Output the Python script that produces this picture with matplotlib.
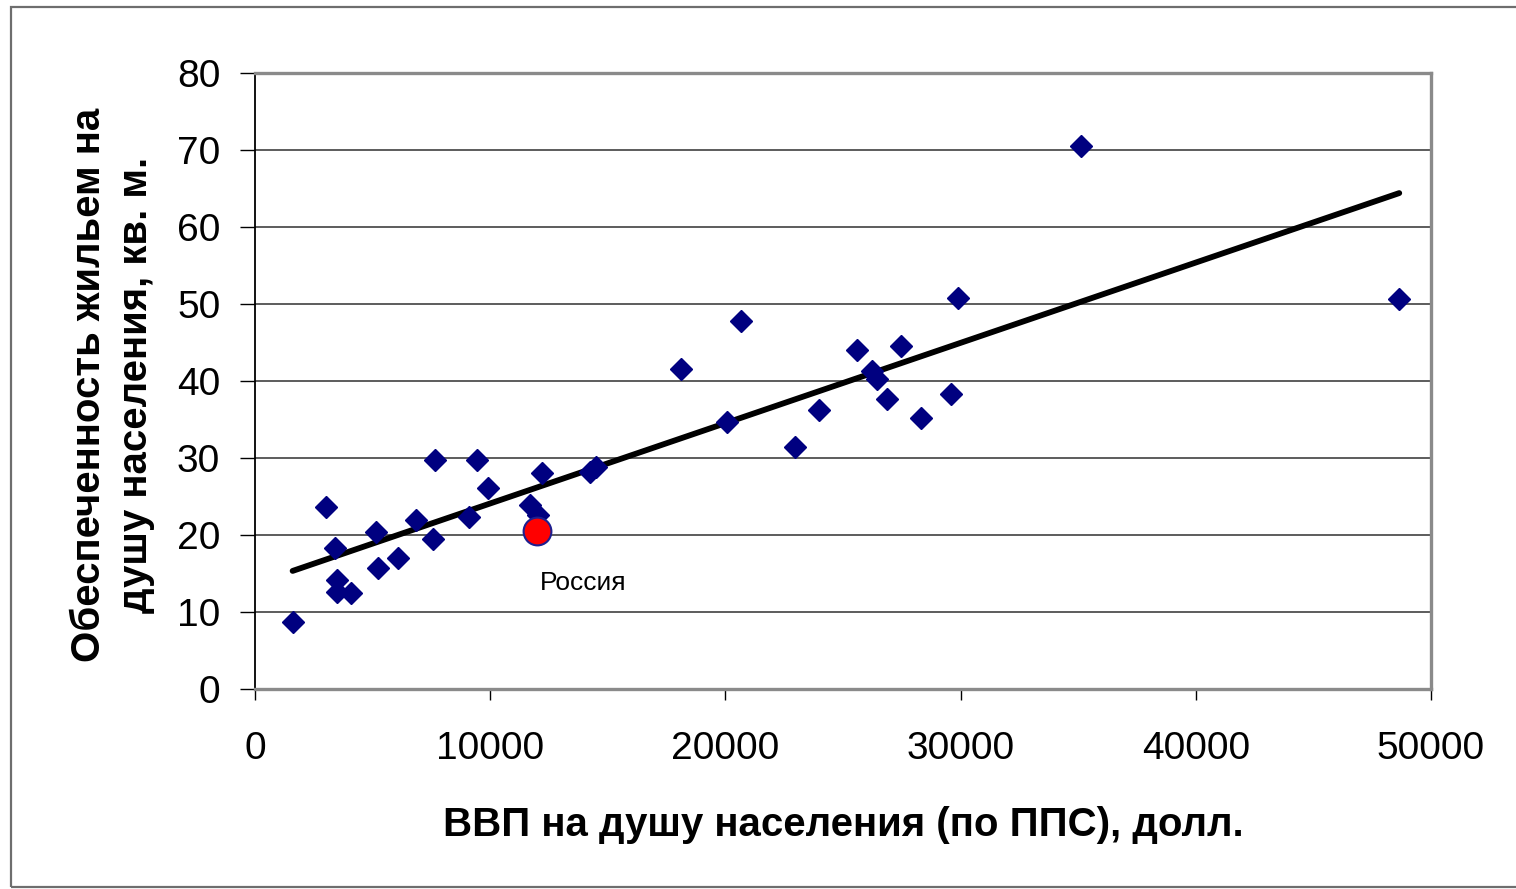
import numpy as np
import matplotlib
matplotlib.use("Agg")
import matplotlib.pyplot as plt
from matplotlib.patches import Rectangle

plt.rcParams['font.family'] = ['Liberation Sans', 'DejaVu Sans']

# ВВП на душу населения (по ППС), долл. / обеспеченность жильем, кв. м
gdp = [1600, 3000, 3400, 3500, 3500, 4100, 5150, 5250, 6100, 6850,
       7550, 7650, 9100, 9450, 9900, 11700, 12050, 12200, 14250, 14500,
       18100, 20050, 20650, 22950, 24000, 25600, 26250, 26450, 26850, 27450,
       28300, 29600, 29900, 35100, 48650]
housing = [8.7, 23.6, 18.3, 14.2, 12.6, 12.5, 20.4, 15.7, 17.0, 21.9,
           19.5, 29.7, 22.4, 29.7, 26.1, 23.9, 22.6, 28.1, 28.2, 28.8,
           41.6, 34.7, 47.8, 31.4, 36.2, 44.0, 41.3, 40.3, 37.7, 44.5,
           35.2, 38.3, 50.8, 70.5, 50.6]

russia_gdp = 12000
russia_housing = 20.5
russia_label = "Россия"

xlabel = "ВВП на душу населения (по ППС), долл."
ylabel = "Обеспеченность жильем на\nдушу населения, кв. м."

fig = plt.figure(figsize=(15.16, 8.89), dpi=100)
ax = fig.add_axes([255 / 1516, 1 - 689 / 889, 1176 / 1516, 616 / 889])

# рамка вокруг всей диаграммы
fig.patches.append(Rectangle((11 / 1516, 1 - 887 / 889), 1.2, 880 / 889,
                             transform=fig.transFigure, fill=False,
                             edgecolor='#6e6e6e', linewidth=1.6))

# линия тренда (линейная регрессия)
all_x = np.array(gdp + [russia_gdp])
all_y = np.array(housing + [russia_housing])
k, b = np.polyfit(all_x, all_y, 1)
xs = np.array([all_x.min(), all_x.max()])
ax.plot(xs, k * xs + b, color='black', linewidth=4.2, zorder=3,
        solid_capstyle='round')

ax.plot(gdp, housing, linestyle='none', marker='D', markersize=11,
        color='#000080', zorder=4)
ax.plot([russia_gdp], [russia_housing], linestyle='none', marker='o',
        markersize=20, markerfacecolor='#ff0000', markeredgecolor='#1f1f8f',
        markeredgewidth=1.5, zorder=5)
ax.annotate(russia_label, (russia_gdp, russia_housing),
            xytext=(33, -37), textcoords='offset points',
            ha='center', va='center', fontsize=19)

ax.set_xlim(0, 50000)
ax.set_ylim(0, 80)
ax.set_xticks(np.arange(0, 50001, 10000))
ax.set_yticks(np.arange(0, 81, 10))
ax.yaxis.grid(True, color='#303030', linewidth=1.1)
ax.set_axisbelow(True)

ax.tick_params(axis='y', direction='out', length=11, width=1, pad=14,
               labelsize=28)
ax.tick_params(axis='x', direction='out', length=8, width=1, pad=22,
               labelsize=28)

ax.spines['left'].set_color('black')
ax.spines['left'].set_linewidth(1.3)
for s in ['top', 'right', 'bottom']:
    ax.spines[s].set_color('#8a8a8a')
    ax.spines[s].set_linewidth(2.4)

ax.set_xlabel(xlabel, fontsize=29, fontweight='bold')
ax.xaxis.set_label_coords(0.5, -0.19)
ax.set_ylabel(ylabel, fontsize=29, fontweight='bold', linespacing=1.3)
ax.yaxis.set_label_coords(-0.085, 0.4935)

fig.savefig("out.png", dpi=100)
